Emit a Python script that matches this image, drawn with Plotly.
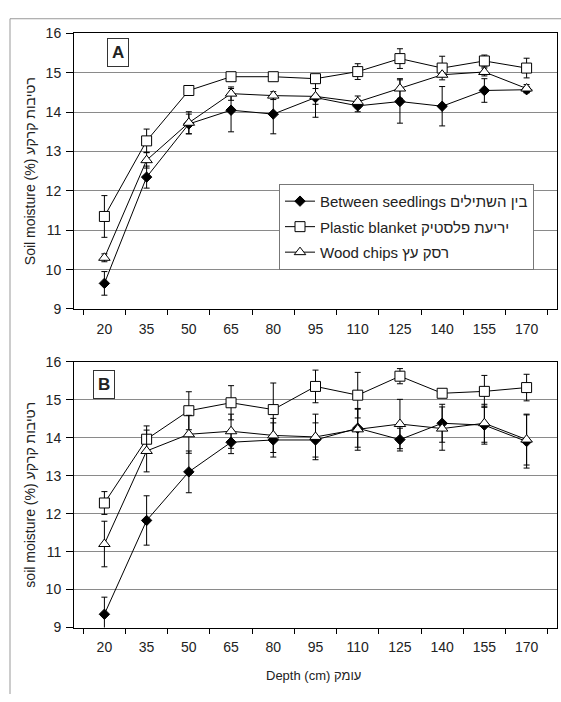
import plotly.graph_objects as go

# Sampling depths (cm)
depths = ["20", "35", "50", "65", "80", "95", "110", "125", "140", "155", "170"]

# Panel A – soil moisture (%) and standard errors
a_between = [9.65, 12.35, 13.7, 14.05, 13.95, 14.37, 14.16, 14.27, 14.15, 14.55, 14.57]
a_between_err = [0.3, 0.28, 0.25, 0.55, 0.5, 0.5, 0.15, 0.55, 0.5, 0.3, 0.08]
a_plastic = [11.35, 13.27, 14.55, 14.9, 14.9, 14.85, 15.03, 15.36, 15.12, 15.3, 15.12]
a_plastic_err = [0.53, 0.3, 0.12, 0.1, 0.05, 0.1, 0.2, 0.25, 0.3, 0.15, 0.25]
a_wood = [10.3, 12.78, 13.73, 14.47, 14.42, 14.4, 14.26, 14.6, 14.95, 15.02, 14.6]
a_wood_err = [0.1, 0.2, 0.28, 0.17, 0.1, 0.2, 0.15, 0.25, 0.05, 0.1, 0.1]

# Panel B – soil moisture (%) and standard errors
b_between = [9.35, 11.82, 13.1, 13.88, 13.94, 13.94, 14.25, 13.95, 14.38, 14.33, 13.9]
b_between_err = [0.45, 0.65, 0.55, 0.3, 0.45, 0.45, 0.5, 0.3, 0.5, 0.5, 0.7]
b_plastic = [12.28, 13.96, 14.71, 14.92, 14.74, 15.35, 15.12, 15.62, 15.17, 15.22, 15.32]
b_plastic_err = [0.3, 0.35, 0.5, 0.45, 0.7, 0.43, 0.6, 0.2, 0.02, 0.42, 0.35]
b_wood = [11.2, 13.65, 14.09, 14.17, 14.06, 14.02, 14.22, 14.36, 14.24, 14.38, 13.95]
b_wood_err = [0.6, 0.55, 0.5, 0.45, 0.45, 0.6, 0.55, 0.65, 0.57, 0.5, 0.67]

series_names = [
    "Between seedlings בין השתילים",
    "Plastic blanket יריעת פלסטיק",
    "Wood chips רסק עץ",
]
y_ticks = [9, 10, 11, 12, 13, 14, 15, 16]

W, H = 561, 702
FONT = "Liberation Sans, Arial, sans-serif"

markers = [
    dict(symbol="diamond", size=8, color="black", line=dict(color="black", width=1)),
    dict(symbol="square", size=10, color="white", line=dict(color="black", width=1)),
    dict(symbol="triangle-up", size=10, color="white", line=dict(color="black", width=1)),
]

fig = go.Figure()

panels = [
    ("x", "y", [a_between, a_plastic, a_wood], [a_between_err, a_plastic_err, a_wood_err], True),
    ("x2", "y2", [b_between, b_plastic, b_wood], [b_between_err, b_plastic_err, b_wood_err], False),
]
for xa, ya, values, errors, show in panels:
    for i, (vals, errs) in enumerate(zip(values, errors)):
        fig.add_trace(go.Scatter(
            x=depths, y=vals, xaxis=xa, yaxis=ya,
            mode="lines+markers",
            name=series_names[i],
            legendgroup=f"g{i}",
            showlegend=show,
            line=dict(color="black", width=1),
            marker=markers[i],
            error_y=dict(type="data", array=errs, visible=True,
                         color="black", thickness=1, width=3),
        ))

x_dom = [74 / W, 557 / W]
yA = [(H - 308) / H, (H - 26) / H]
yB = [(H - 634) / H, (H - 362) / H]

xaxis_common = dict(
    type="category", tickson="boundaries", ticks="outside", ticklen=5,
    tickcolor="black", showline=True, linecolor="black", linewidth=1,
    mirror=True, showgrid=False, ticklabelstandoff=7,
    tickfont=dict(family=FONT, size=14, color="#222"),
    domain=x_dom,
)
yaxis_common = dict(
    range=[9, 16], tickvals=y_ticks, ticks="outside", ticklen=7,
    tickcolor="black", showline=True, linecolor="black", linewidth=1,
    mirror=True, showgrid=True, gridcolor="#8a8a8a", gridwidth=1,
    zeroline=False, ticklabelstandoff=2,
    tickfont=dict(family=FONT, size=14, color="#222"),
)

fig.update_layout(
    width=W, height=H,
    margin=dict(l=0, r=0, t=0, b=0),
    paper_bgcolor="white", plot_bgcolor="white",
    font=dict(family=FONT, color="#222"),
    xaxis=dict(xaxis_common, anchor="y"),
    xaxis2=dict(xaxis_common, anchor="y2"),
    yaxis=dict(yaxis_common, domain=yA, anchor="x"),
    yaxis2=dict(yaxis_common, domain=yB, anchor="x2"),
    legend=dict(
        x=279 / W, y=(H - 180) / H, xanchor="left", yanchor="top",
        bgcolor="white", bordercolor="#777", borderwidth=1,
        font=dict(family=FONT, size=15, color="#222"),
        traceorder="grouped", tracegroupgap=3,
        itemwidth=30,
    ),
    showlegend=True,
)


def label(text, x, y, size=13, angle=0, **extra):
    return dict(text=text, x=x / W, y=(H - y) / H, xref="paper", yref="paper",
                xanchor="center", yanchor="middle", textangle=angle,
                showarrow=False, font=dict(family=FONT, size=size, color="#222"),
                **extra)


annotations = [
    label("<b>A</b>", 118, 46, size=17, bordercolor="#333", borderwidth=1,
          borderpad=4, bgcolor="white"),
    label("<b>B</b>", 104, 385, size=17, bordercolor="#333", borderwidth=1,
          borderpad=4, bgcolor="white"),
    label("Soil moisture (%) רטיבות קרקע", 30, 167, size=14, angle=-90),
    label("soil moisture (%) רטיבות קרקע", 30, 498, size=14, angle=-90),
    label("Depth (cm) עומק", 313, 683),
]
fig.update_layout(annotations=annotations)

# Page frame around the chart (top and left edges)
fig.add_shape(type="line", xref="paper", yref="paper",
              x0=10 / W, x1=1, y0=(H - 11) / H, y1=(H - 11) / H,
              line=dict(color="#999", width=1))
fig.add_shape(type="line", xref="paper", yref="paper",
              x0=10 / W, x1=10 / W, y0=0, y1=(H - 11) / H,
              line=dict(color="#999", width=1))

fig.write_html("out.html")
